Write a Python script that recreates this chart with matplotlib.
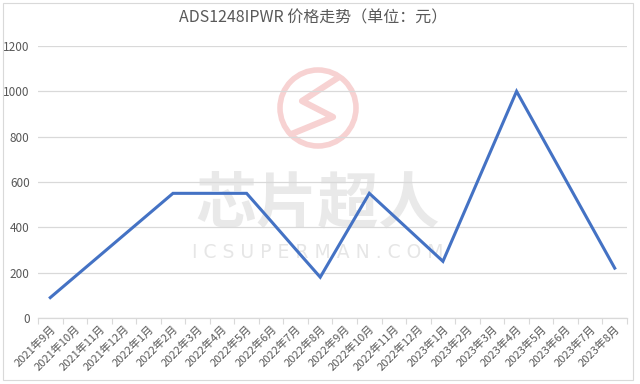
import matplotlib
matplotlib.use("Agg")
import matplotlib.pyplot as plt
from matplotlib.patches import Circle, Rectangle
from matplotlib.lines import Line2D

plt.rcParams['font.family'] = ['Noto Sans CJK SC', 'DejaVu Sans']

title = "ADS1248IPWR 价格走势（单位：元）"
months = ["2021年9月", "2021年10月", "2021年11月", "2021年12月",
          "2022年1月", "2022年2月", "2022年3月", "2022年4月", "2022年5月",
          "2022年6月", "2022年7月", "2022年8月", "2022年9月", "2022年10月",
          "2022年11月", "2022年12月", "2023年1月", "2023年2月", "2023年3月",
          "2023年4月", "2023年5月", "2023年6月", "2023年7月", "2023年8月"]
prices = [90, 182, 274, 366, 458, 550, 550, 550, 550, 427, 303, 180,
          365, 550, 450, 350, 250, 500, 750, 1000, 805, 610, 415, 220]
yticks = [0, 200, 400, 600, 800, 1000, 1200]

W, H = 640, 384
fig = plt.figure(figsize=(6.4, 3.84), dpi=100)
fig.patch.set_facecolor('white')

# chart border
fig.patches.append(Rectangle((3 / W, 4 / H), 630 / W, 377 / H, transform=fig.transFigure,
                             fill=False, edgecolor='#d9d9d9', linewidth=0.8, zorder=-5))

# watermark (behind the axes)
wm_pink = '#f7d2d2'
fig.patches.append(Circle((318, H - 108), 38, transform=None, fill=False,
                          edgecolor=wm_pink, linewidth=4, zorder=-2))
zz = [(336, 79), (302, 101), (333, 117), (294, 133)]
fig.lines.append(Line2D([p[0] for p in zz], [H - p[1] for p in zz], transform=None,
                        color=wm_pink, linewidth=4.5, zorder=-2, solid_joinstyle='round'))
fig.text(318 / W, 1 - 205 / H, "芯片超人", ha='center', va='center', fontsize=44,
         fontweight='bold', color='#e9e9e9', zorder=-1)
fig.text(318 / W, 1 - 252 / H, "I C S U P E R M A N . C O M", ha='center', va='center',
         fontsize=13.5, color='#e6e6e6', family=['DejaVu Sans'], zorder=-1)

ax = fig.add_axes([38 / W, 1 - 318 / H, (627 - 38) / W, (318 - 46) / H])
ax.set_facecolor('none')
x = list(range(len(months)))
ax.plot(x, prices, color='#4472C4', linewidth=2.2, solid_joinstyle='miter', zorder=3)

ax.set_xlim(-0.5, len(months) - 0.5)
ax.set_ylim(0, 1200)
ax.set_yticks(yticks)
ax.set_yticklabels([str(v) for v in yticks], fontsize=8.5, color='#595959')
ax.yaxis.grid(True, color='#d9d9d9', linewidth=0.9)
ax.set_axisbelow(True)
ax.tick_params(axis='y', length=0, pad=6)

ax.set_xticks(x)
ax.set_xticklabels(months, rotation=45, ha='right', rotation_mode='anchor',
                   fontsize=8, color='#595959')
ax.tick_params(axis='x', which='major', length=0, pad=4)
ax.set_xticks([i - 0.5 for i in range(len(months) + 1)], minor=True)
ax.tick_params(axis='x', which='minor', length=4, color='#d9d9d9', width=0.8)

for s in ['top', 'right', 'left']:
    ax.spines[s].set_visible(False)
ax.spines['bottom'].set_color('#d9d9d9')
ax.spines['bottom'].set_linewidth(0.9)

fig.text(313 / W, 1 - 18 / H, title, ha='center', va='center', fontsize=11.5,
         color='#595959')

fig.savefig('out.png', dpi=100, facecolor='white')
